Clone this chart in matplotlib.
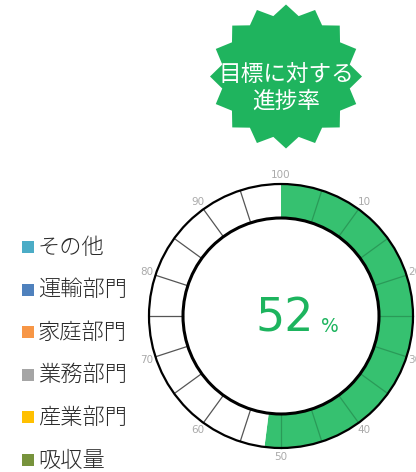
import numpy as np
import matplotlib
matplotlib.use("Agg")
import matplotlib.pyplot as plt
from matplotlib.patches import Polygon, Circle

plt.rcParams['font.family'] = ['Noto Sans CJK JP', 'DejaVu Sans']

# ---- data ----
progress = 52                       # percent achieved
segment_step = 5                    # gauge divided every 5 %
tick_values = [0, 10, 20, 30, 40, 50, 60, 70, 80, 90]
tick_labels = ['100', '10', '20', '30', '40', '50', '60', '70', '80', '90']
categories = ['その他', '運輸部門', '家庭部門', '業務部門', '産業部門', '吸収量']
cat_colors = ['#4bacc6', '#4f81bd', '#f79646', '#a5a5a5', '#ffc000', '#77933c']
badge_lines = ['目標に対する', '進捗率']

W, H = 416, 472
fig = plt.figure(figsize=(W / 100, H / 100), dpi=100)
fig.patch.set_facecolor('white')

# overlay axes in pixel coords (y downwards)
ax = fig.add_axes([0, 0, 1, 1])
ax.set_xlim(0, W)
ax.set_ylim(H, 0)
ax.axis('off')

# ---- badge ----
badge_green = '#1fb45e'
cx, cy, rx, ry, rin = 286, 76.5, 76, 72, 0.855
n = 16
pts = []
for k in range(2 * n):
    th = np.pi * k / n
    f = 1.0 if k % 2 == 0 else rin
    pts.append((cx + rx * f * np.sin(th), cy - ry * f * np.cos(th)))
ax.add_patch(Polygon(pts, closed=True, facecolor=badge_green, edgecolor='none'))
ax.text(cx, 74, badge_lines[0], color='white', fontsize=16.3, ha='center', va='center')
ax.text(cx, 101, badge_lines[1], color='white', fontsize=16.3, ha='center', va='center')

# ---- legend ----
y0, dy = 247, 42.6
for i, (name, col) in enumerate(zip(categories, cat_colors)):
    y = y0 + i * dy
    ax.scatter([27.5], [y], marker='s', s=11 ** 2 * 0.52, color=col, linewidths=0)
    ax.text(38, y + 0.5, name, fontsize=16, color='#2a2a2a', ha='left', va='center',
            fontweight='light')

# ---- gauge ----
gcx, gcy = 281, 316
half = 160
gax = fig.add_axes([(gcx - half) / W, (H - gcy - half) / H, 2 * half / W, 2 * half / H])
gax.axis('off')
R, r = 132, 98
gauge_green = '#36c170'
wedges, _ = gax.pie([progress, 100 - progress], colors=[gauge_green, 'white'],
                    startangle=90, counterclock=False, radius=R,
                    wedgeprops=dict(width=R - r, edgecolor='none'))
for w in wedges:
    w.set_clip_on(False)
gax.set_xlim(-half, half)
gax.set_ylim(-half, half)
gax.set_aspect('equal')

for v in np.arange(segment_step, 100, segment_step):
    ang = np.deg2rad(90 - v * 3.6)
    col = '#2a9a58' if v < progress else '#555555'
    gax.plot([r * np.cos(ang), R * np.cos(ang)], [r * np.sin(ang), R * np.sin(ang)],
             color=col, lw=0.9, clip_on=False, zorder=3)

gax.add_patch(Circle((0, 0), R, fill=False, edgecolor='black', lw=1.6, clip_on=False, zorder=4))
gax.add_patch(Circle((0, 0), r, fill=False, edgecolor='black', lw=2.2, clip_on=False, zorder=4))

for v, lab in zip(tick_values, tick_labels):
    ang = np.deg2rad(90 - v * 3.6)
    gax.text(141 * np.cos(ang), 141 * np.sin(ang), lab, fontsize=7.5, color='#aaaaaa',
             ha='center', va='center', family='DejaVu Sans', clip_on=False)

num_green = '#1db45e'
gax.text(33, -16, f'{progress}', fontsize=33, color=num_green, ha='right', va='baseline',
         family=['DejaVu Sans'])
gax.text(49, -16, '%', fontsize=13.5, color=num_green, ha='center', va='baseline',
         family=['DejaVu Sans'])

fig.savefig('out.png', dpi=100)
